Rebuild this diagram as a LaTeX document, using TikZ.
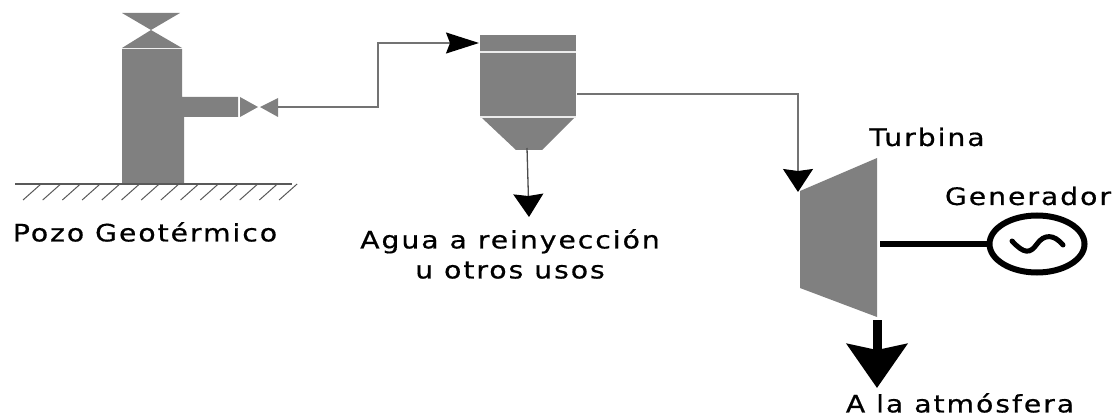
\documentclass[tikz,border=0pt]{standalone}
\usepackage{fontspec}
\setmainfont{DejaVu Sans}
\usepackage{tikz}
\usetikzlibrary{arrows.meta,shapes.geometric}

\definecolor{equipgray}{HTML}{808080}

\begin{document}
\begin{tikzpicture}[x=1pt, y=-1pt,
        equip/.style={fill=equipgray, draw=none},
        band/.style={draw=white!85!equipgray, line width=1.5pt},
        pipe/.style={draw=black!55, line width=1.3pt},
        smalltip/.style={-{Stealth[length=33pt, width=21pt, inset=4pt, black]}},
        midtip/.style={-{Stealth[length=23pt, width=30pt, inset=2pt, black]}},
        bigtip/.style={-{Stealth[length=44pt, width=60pt, inset=6pt]}},
        label/.style={font=\fontsize{24}{30}\selectfont\addfontfeature{FakeStretch=1.18,LetterSpace=8,FakeBold=0.6}, inner sep=0pt, align=center}]
    \useasboundingbox (0,0) rectangle (1114,417);

    \fill[equip] (122,13) -- (180,13) -- (151,30) -- (182,48) -- (122,48) -- (151,30) -- cycle;
    \fill[equip] (122,49) -- (182,49) -- (182,97) -- (238,97) -- (238,117) -- (184,117) -- (184,184) -- (122,184) -- cycle;
    \fill[equip] (240,97) -- (258,107) -- (240,117) -- cycle;
    \fill[equip] (278,98) -- (278,117) -- (260,107) -- cycle;

    \coordinate (groundl) at (15,184);
    \coordinate (groundr) at (292,184);
    \draw[black!65, line width=1.3pt] (groundl) -- (groundr);
    \foreach \x in {0,...,13}
        \draw[black!65, line width=1pt] (23+19.7*\x,200) -- (41+19.7*\x,184);

    \fill[equip] (480,35) rectangle (576,117);
    \fill[equip] (482,118) -- (574,118) -- (542,150) -- (516,150) -- cycle;
    \draw[band] (480,52) -- (576,52);
    \draw[band] (480,117) -- (576,117);

    \fill[equip] (800,191) -- (877,158) -- (877,317) -- (800,288) -- cycle;

    \coordinate (wellout) at (278,107);
    \coordinate (sepin) at (479,43);
    \coordinate (sepout) at (577,94);
    \coordinate (sepdrain) at (527,148);
    \coordinate (drainend) at (529,217);
    \coordinate (turbin) at (798,192);
    \coordinate (turbshaft) at (880,244);
    \coordinate (turbout) at (877,320);
    \coordinate (exhaustend) at (877,388);

    \node[draw=black, ellipse, line width=6pt, minimum width=95pt, minimum height=57pt, inner sep=0pt] (gen) at (1037,244) {};
    \draw[line width=5pt, line cap=round] (1012,241) .. controls (1024,254) and (1030,254) .. (1037,244) .. controls (1044,234) and (1054,234) .. (1063,245);

    \draw[pipe, smalltip] (wellout) -- (378,107) -- (378,43) -- (sepin);
    \draw[pipe, midtip] (sepout) -- (798,94) -- (turbin);
    \draw[pipe, draw=black!70, midtip] (sepdrain) -- (drainend);
    \draw[line width=6pt] (turbshaft) -- (gen);
    \draw[line width=9pt, bigtip] (turbout) -- (exhaustend);

    \node[label] (pozo) at (145,232) {Pozo Geotérmico};
    \node[label] (agua) at (510,254) {Agua a reinyección\\u otros usos};
    \node[label] (turbina) at (927,137) {Turbina};
    \node[label] (generador) at (1028,196) {Generador};
    \node[label] (atmosfera) at (960,403) {A la atmósfera};
\end{tikzpicture}
\end{document}
